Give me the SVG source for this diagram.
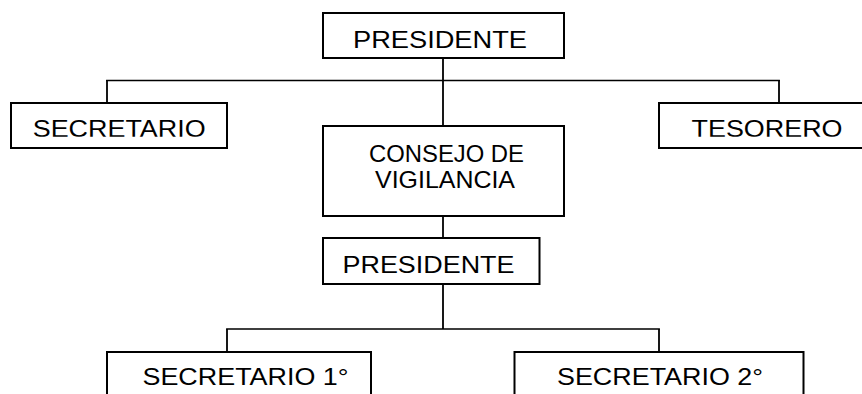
<svg xmlns="http://www.w3.org/2000/svg" width="862" height="394" viewBox="0 0 862 394">
<style>
.box{fill:#fff;stroke:#000;stroke-width:2}
.ln{fill:none;stroke:#000;stroke-width:1.8}
.h{fill:none;stroke:#000;stroke-width:1.5}
text{font-family:"Liberation Sans",Arial,sans-serif;font-size:24px;fill:#000}
</style>
<defs>
<clipPath id="cut"><rect x="0" y="100" width="862" height="36.8"/></clipPath>
</defs>
<rect width="862" height="394" fill="#fff"/>
<g id="connectors">
<path class="h" d="M106.1 80.5H779.9M226.1 329H659.9"/>
<path class="ln" d="M443 58V126M107 103V80M779 103V80"/>
<path class="ln" d="M443 216V238"/>
<path class="ln" d="M443 284V329M227 352V329M659 352V329"/>
</g>
<g id="presidente1">
<rect class="box" x="323" y="13" width="241" height="45"/>
<text x="353" y="48.3" textLength="174" lengthAdjust="spacingAndGlyphs">PRESIDENTE</text>
</g>
<g id="secretario">
<rect class="box" x="11" y="103" width="216" height="45"/>
<text x="32.7" y="137.3" textLength="173" lengthAdjust="spacingAndGlyphs" clip-path="url(#cut)">SECRETARIO</text>
</g>
<g id="tesorero">
<rect class="box" x="659" y="103" width="220" height="45"/>
<text x="691.5" y="137.3" textLength="151" lengthAdjust="spacingAndGlyphs" clip-path="url(#cut)">TESORERO</text>
</g>
<g id="consejo">
<rect class="box" x="323" y="126" width="241" height="90"/>
<text x="369" y="162.3" textLength="155" lengthAdjust="spacingAndGlyphs">CONSEJO DE</text>
<text x="375" y="188.3" textLength="140" lengthAdjust="spacingAndGlyphs">VIGILANCIA</text>
</g>
<g id="presidente2">
<rect class="box" x="323" y="238" width="216.5" height="46"/>
<text x="342.5" y="273.4" textLength="172" lengthAdjust="spacingAndGlyphs">PRESIDENTE</text>
</g>
<g id="secretario1">
<rect class="box" x="107" y="352" width="264" height="60"/>
<text x="142.5" y="385" textLength="206" lengthAdjust="spacingAndGlyphs">SECRETARIO 1°</text>
</g>
<g id="secretario2">
<rect class="box" x="514.5" y="352" width="289" height="60"/>
<text x="557" y="385" textLength="206" lengthAdjust="spacingAndGlyphs">SECRETARIO 2°</text>
</g>
</svg>
